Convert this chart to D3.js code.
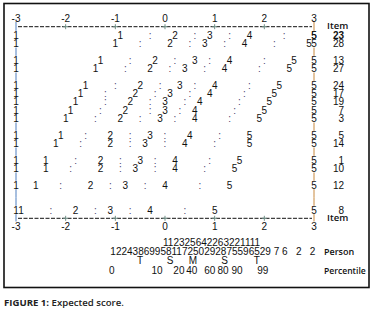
<!DOCTYPE html>
<html>
<head>
<meta charset="utf-8">
<script src="https://cdn.jsdelivr.net/npm/d3@7"></script>
<style>
body { margin: 0; background: #fff; }
</style>
</head>
<body>
<svg width="380" height="311"></svg>
<script>
const ticks = [-3, -2, -1, 0, 1, 2, 3];
const marks = ["1", ":", "2", ":", "3", ":", "4", ":", "5"];
// map lines from top to bottom, null is an empty "|" line
const mapLines = [23, 28, null, 13, 27, null, 24, 17, 19, 7, 3, null, 5, 14, null, 1, 10, null, 12, null, null, 8];
// logit position of 1 : 2 : 3 : 4 : 5 for each item, same order as mapLines
const expected = [
    [-0.9, -0.3, 0.2, 0.6, 0.9, 1.3, 1.7, 2.4, 3.0],
    [-1.0, -0.5, 0.1, 0.5, 0.8, 1.2, 1.6, 2.2, 2.9],
    [-1.3, -0.7, -0.2, 0.2, 0.6, 0.9, 1.3, 2.0, 2.6],
    [-1.4, -0.8, -0.3, 0.1, 0.4, 0.8, 1.2, 1.9, 2.5],
    [-1.6, -1.0, -0.5, -0.1, 0.3, 0.6, 1.0, 1.7, 2.3],
    [-1.7, -1.2, -0.6, -0.2, 0.1, 0.5, 0.9, 1.6, 2.2],
    [-1.8, -1.2, -0.7, -0.3, 0.0, 0.4, 0.7, 1.5, 2.1],
    [-1.9, -1.3, -0.8, -0.3, 0.0, 0.3, 0.6, 1.4, 2.0],
    [-2.0, -1.4, -0.9, -0.5, -0.1, 0.2, 0.6, 1.3, 1.9],
    [-2.1, -1.6, -1.1, -0.7, -0.3, 0.0, 0.5, 1.1, 1.7],
    [-2.2, -1.7, -1.1, -0.7, -0.4, 0.0, 0.4, 1.0, 1.7],
    [-2.4, -1.8, -1.3, -0.9, -0.5, -0.2, 0.2, 0.9, 1.5],
    [-2.4, -1.9, -1.3, -0.9, -0.6, -0.2, 0.2, 0.8, 1.4],
    [-2.6, -2.1, -1.5, -1.1, -0.8, -0.4, 0.0, 0.7, 1.3],
    [-2.9, -2.3, -1.8, -1.4, -1.1, -0.7, -0.3, 0.4, 1.0]
];
const personTens = "112325642263221111";
const personTensAt = -0.04;
const personUnits = "12243869958117250292875596529 7 6   2   2";
const personUnitsAt = -1.1;
const sdMarks = ["T", "S", "M", "S", "T"];
const sdAt = [-0.5, 0.1, 0.56, 1.2, 1.85];
const percentiles = ["0", "10", "20", "40", "60", "80", "90", "99"];
const percentileAt = [-1.07, -0.16, 0.28, 0.54, 0.9, 1.17, 1.45, 1.97];

const svg = d3.select("svg");
const mono = "'Liberation Sans', Arial, sans-serif";
const label = "'Open Sans', sans-serif";
const fs = 10;

const x = d3.scaleLinear().domain([-3, 3]).range([16, 314]);
// line slots: 0 = top dashed line, 1..22 = map lines, 23 = bottom dashed line
const y = d3.scaleLinear().domain([0, 23]).range([26.7, 218.3]);
const step = y(1) - y(0);

svg.append("rect")
    .attr("x", 4).attr("y", 3.5)
    .attr("width", 365).attr("height", 284)
    .attr("fill", "none").attr("stroke", "#111").attr("stroke-width", 1.6);

// "|" pieces on both edges
const barSlots = [0, 23];
mapLines.forEach((d, i) => { if (d === null) barSlots.push(i + 1); });
[[-3, "#4f7fbf"], [3, "#c8893e"]].forEach(([v, c]) => {
    svg.append("g").selectAll("line").data(barSlots).join("line")
        .attr("x1", x(v)).attr("x2", x(v))
        .attr("y1", d => y(d) - step / 2 - (d === 0 ? 1 : 0))
        .attr("y2", d => y(d) + step / 2 - (d === 23 ? 1 : 0))
        .attr("stroke", c).attr("stroke-width", 1);
});

// dashed rulers with + at every logit
[0, 23].forEach(s => {
    svg.append("line")
        .attr("x1", x(-3) + 2).attr("x2", x(3) - 2)
        .attr("y1", y(s)).attr("y2", y(s))
        .attr("stroke", "#111").attr("stroke-width", 1)
        .attr("stroke-dasharray", "4,1.5");
    svg.append("g").selectAll("path").data(ticks.slice(1, -1)).join("path")
        .attr("d", d => `M${x(d) - 2.5},${y(s)}h5M${x(d)},${y(s) - 2.5}v5`)
        .attr("stroke", "#6f8f86").attr("stroke-width", 1);
});

const tickLabels = svg.append("g")
    .attr("font-family", mono).attr("font-size", fs)
    .attr("fill", "#111").attr("text-anchor", "middle");
[-1, 24].forEach(s => {
    tickLabels.selectAll(null).data(ticks).join("text")
        .attr("x", d => x(d)).attr("y", y(s) + 3.6)
        .text(d => d);
});

// item rows
const rows = mapLines.map((d, i) => ({ item: d, slot: i + 1 })).filter(d => d.item !== null);
rows.forEach((r, k) => { r.pos = expected[k]; });

const g = svg.append("g")
    .attr("font-family", mono).attr("font-size", fs)
    .attr("text-anchor", "middle");

rows.forEach(r => {
    const row = g.append("g").attr("transform", `translate(0,${y(r.slot) + 3.6})`);
    row.append("text").attr("x", x(-3)).attr("fill", "#111").text("1");
    row.append("text").attr("x", x(3)).attr("fill", "#111").text("5");
    row.selectAll("text.m").data(r.pos).join("text")
        .attr("class", "m")
        .attr("x", d => x(d))
        .attr("fill", (d, i) => marks[i] === ":" ? "#4b3f6b" : "#111")
        .text((d, i) => marks[i]);
    row.append("text")
        .attr("x", 344).attr("text-anchor", "end")
        .attr("fill", "#111")
        .attr("font-weight", r.slot === 1 ? "bold" : null)
        .text(r.item);
});

const side = svg.append("g")
    .attr("font-family", label).attr("font-size", 9.5)
    .attr("font-weight", 600).attr("fill", "#111");
side.append("text").attr("x", 327).attr("y", y(0) + 2).text("Item");
side.append("text").attr("x", 327).attr("y", y(23) + 3).text("Item");

// person distribution
const p = svg.append("g")
    .attr("font-family", mono).attr("font-size", fs).attr("fill", "#111");
p.append("text").attr("x", x(personTensAt)).attr("y", 246).text(personTens);
p.append("text").attr("x", x(personUnitsAt)).attr("y", 255)
    .style("white-space", "pre")
    .text(personUnits);
p.selectAll("text.sd").data(sdMarks).join("text")
    .attr("class", "sd").attr("text-anchor", "middle")
    .attr("x", (d, i) => x(sdAt[i])).attr("y", 264)
    .text(d => d);
p.selectAll("text.pc").data(percentiles).join("text")
    .attr("class", "pc").attr("text-anchor", "middle")
    .attr("x", (d, i) => x(percentileAt[i])).attr("y", 274)
    .text(d => d);

side.append("text").attr("x", 324).attr("y", 255).attr("font-size", 9).text("Person");
side.append("text").attr("x", 324).attr("y", 274).attr("font-size", 8.6).text("Percentile");

const cap = svg.append("text")
    .attr("x", 4).attr("y", 306)
    .attr("font-family", label).attr("font-size", 9.6).attr("fill", "#222");
cap.append("tspan").attr("font-weight", 700).text("FIGURE 1:");
cap.append("tspan").attr("font-weight", 600).text(" Expected score.");
</script>
</body>
</html>
